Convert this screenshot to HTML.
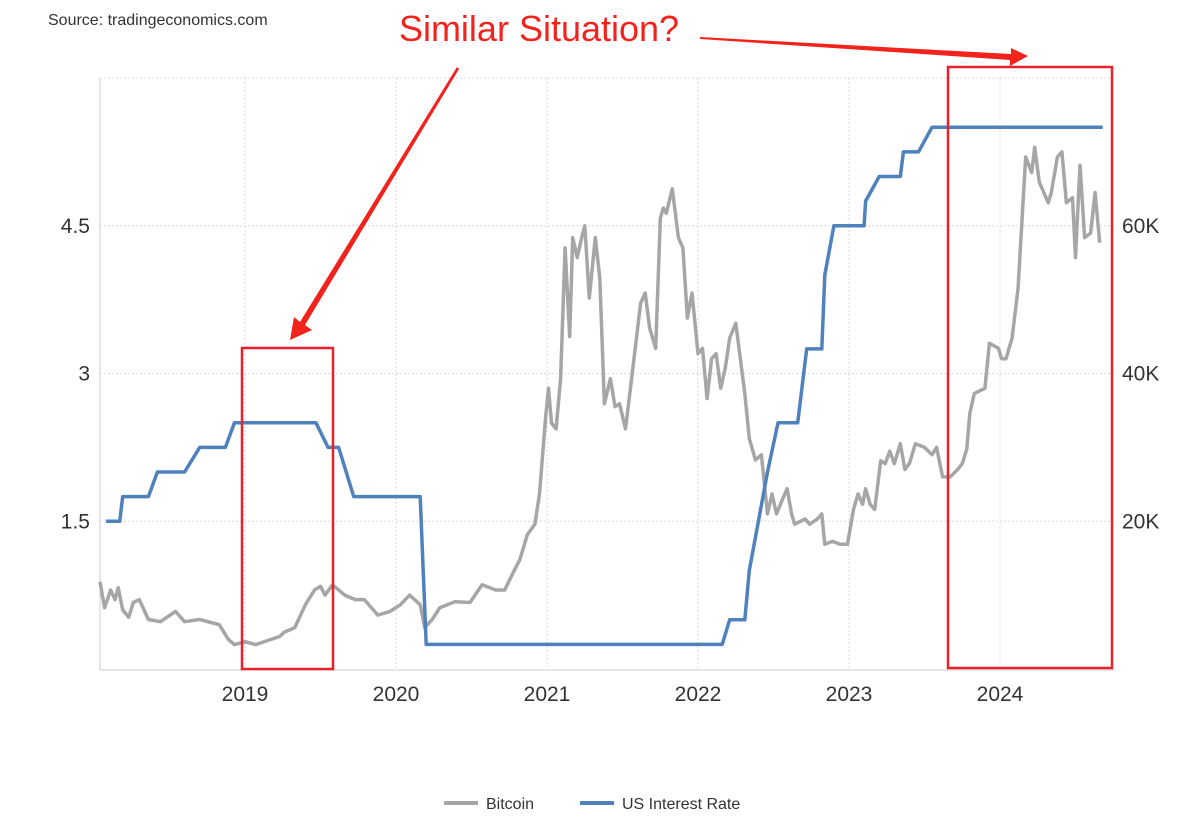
<!DOCTYPE html>
<html><head><meta charset="utf-8"><style>
body{margin:0;background:#fff;}
svg{display:block;font-family:"Liberation Sans",Arial,sans-serif;}
</style></head><body>
<svg id="chart" width="1200" height="820" viewBox="0 0 1200 820">
<text x="48" y="25" font-size="16" fill="#333">Source: tradingeconomics.com</text>
<g id="grid"></g>
<g id="axes"></g>
<g id="series"></g>
<g id="annot">
<text x="539" y="41" font-size="36" fill="#f2231c" text-anchor="middle">Similar Situation?</text>
<rect x="242" y="348" width="91" height="321" fill="none" stroke="#e8212a" stroke-width="2.5"/>
<rect x="948" y="67" width="164" height="601" fill="none" stroke="#e8212a" stroke-width="2.5"/>
<polygon points="457,67 459,69 305,325 312,330 290,340 294,317 300,322" fill="#f2231c"/>
<polygon points="700,37 700,39 1010,60 1010,66 1028,56 1011,48 1011,54" fill="#f2231c"/>
</g>
<g>
<line x1="444" y1="803" x2="478" y2="803" stroke="#a6a6a6" stroke-width="4"/>
<text x="486" y="809" font-size="16" fill="#333">Bitcoin</text>
<line x1="580" y1="803" x2="614" y2="803" stroke="#4f81bd" stroke-width="4"/>
<text x="622" y="809" font-size="16" fill="#333">US Interest Rate</text>
</g>
</svg>
<script>
const yearTicks=[2019,2020,2021,2022,2023,2024];
const leftTicks=[1.5,3,4.5];
const leftTickLabels=["1.5","3","4.5"];
const rightTicks=[20,40,60];
const rightTickLabels=["20K","40K","60K"];
const rateDates=[2018.08,2018.17,2018.19,2018.36,2018.42,2018.6,2018.7,2018.87,2018.93,2019.47,2019.55,2019.62,2019.67,2019.72,2019.8,2020.16,2020.2,2022.16,2022.21,2022.31,2022.34,2022.4,2022.46,2022.53,2022.66,2022.72,2022.82,2022.84,2022.9,2022.93,2023.1,2023.11,2023.2,2023.34,2023.36,2023.46,2023.55,2024.68];
const rateValues=[1.5,1.5,1.75,1.75,2.0,2.0,2.25,2.25,2.5,2.5,2.25,2.25,2.0,1.75,1.75,1.75,0.25,0.25,0.5,0.5,1.0,1.5,2.0,2.5,2.5,3.25,3.25,4.0,4.5,4.5,4.5,4.75,5.0,5.0,5.25,5.25,5.5,5.5];
const btcDates=[2018.04,2018.07,2018.11,2018.14,2018.16,2018.19,2018.23,2018.26,2018.30,2018.36,2018.44,2018.54,2018.60,2018.70,2018.83,2018.89,2018.93,2019.00,2019.07,2019.17,2019.23,2019.26,2019.33,2019.40,2019.46,2019.50,2019.53,2019.58,2019.66,2019.73,2019.79,2019.88,2019.96,2020.03,2020.09,2020.16,2020.19,2020.24,2020.29,2020.39,2020.49,2020.57,2020.66,2020.72,2020.77,2020.82,2020.87,2020.92,2020.95,2020.99,2021.01,2021.03,2021.06,2021.09,2021.12,2021.15,2021.17,2021.20,2021.23,2021.25,2021.28,2021.32,2021.35,2021.38,2021.42,2021.45,2021.48,2021.52,2021.56,2021.62,2021.65,2021.68,2021.72,2021.75,2021.77,2021.79,2021.83,2021.87,2021.90,2021.93,2021.96,2022.00,2022.03,2022.06,2022.09,2022.12,2022.15,2022.18,2022.21,2022.25,2022.28,2022.31,2022.34,2022.38,2022.42,2022.46,2022.49,2022.52,2022.56,2022.59,2022.62,2022.64,2022.71,2022.74,2022.79,2022.82,2022.84,2022.89,2022.94,2022.99,2023.03,2023.06,2023.09,2023.11,2023.14,2023.17,2023.21,2023.24,2023.27,2023.30,2023.34,2023.37,2023.40,2023.44,2023.50,2023.55,2023.58,2023.62,2023.67,2023.72,2023.75,2023.78,2023.80,2023.83,2023.90,2023.93,2023.99,2024.01,2024.04,2024.08,2024.12,2024.15,2024.17,2024.21,2024.23,2024.26,2024.32,2024.34,2024.38,2024.41,2024.44,2024.48,2024.50,2024.53,2024.56,2024.60,2024.63,2024.66];
const btcValues=[11.8,8.3,10.7,9.4,11,8,7,9,9.4,6.7,6.4,7.8,6.4,6.7,6,4,3.3,3.7,3.3,4,4.4,5,5.6,8.7,10.7,11.2,10,11.4,10,9.4,9.4,7.3,7.8,8.7,10,8.7,5.6,6.7,8.3,9.1,9,11.4,10.7,10.7,12.8,14.8,18.2,19.6,23.7,33.9,38,33.3,32.5,39.3,57,45,58.4,55.7,58.4,60,50.2,58.4,52.9,35.9,39.3,35.5,35.9,32.5,39.3,49.5,50.9,46.1,43.4,61,62.4,61.7,65,58.4,57,47.5,50.9,42.7,43.4,36.6,42,42.7,38,40.7,44.8,46.8,42,37.3,31.2,28.3,29,21,23.7,21,23,24.4,21,19.6,20.3,19.6,20.3,21,16.9,17.3,16.9,16.9,21.6,23.7,22.3,24.4,22.3,21.6,28.2,27.8,29.5,27.8,30.5,27,27.8,30.5,30,29,30,26,26,27,27.8,29.8,34.6,37.3,38,44.1,43.4,42,42,44.8,51.6,62.4,69.3,67.2,70.6,65.9,63.1,64.5,69.3,70,63.1,63.8,55.7,68.2,58.4,59,64.5,57.7];

const NS="http://www.w3.org/2000/svg";
const X=d=>245+(d-2019)*151;
const YL=v=>669-v*(669-78)/6;
const YR=v=>669-v*(669-78)/80;
function mk(tag,attrs,parent){const e=document.createElementNS(NS,tag);for(const k in attrs)e.setAttribute(k,attrs[k]);parent.appendChild(e);return e;}
const grid=document.getElementById('grid'),axes=document.getElementById('axes'),series=document.getElementById('series');
[6,4.5,3,1.5].forEach(v=>{const l=mk('line',{x1:100,x2:1115,y1:YL(v),y2:YL(v),stroke:'#d9d9d9','stroke-dasharray':'2,2'},grid);

});
yearTicks.forEach(y=>{const l=mk('line',{x1:X(y),x2:X(y),y1:78,y2:670,stroke:'#d9d9d9','stroke-dasharray':'2,2'},grid);


const t=mk('text',{x:X(y),y:701,'font-size':21,fill:'#333','text-anchor':'middle'},axes);t.textContent=y;

});
const a1=mk('line',{x1:100,x2:100,y1:78,y2:670,stroke:'#ccc'},axes);


const a2=mk('line',{x1:100,x2:1115,y1:670,y2:670,stroke:'#ccc'},axes);


leftTicks.forEach((v,i)=>{const t=mk('text',{x:90,y:YL(v)+7,'font-size':21,fill:'#333','text-anchor':'end'},axes);t.textContent=leftTickLabels[i];

});
rightTicks.forEach((v,i)=>{const t=mk('text',{x:1122,y:YR(v)+7,'font-size':21,fill:'#333'},axes);t.textContent=rightTickLabels[i];

});
const bp=mk('polyline',{points:btcDates.map((d,i)=>X(d).toFixed(1)+','+YR(btcValues[i]).toFixed(1)).join(' '),fill:'none',stroke:'#a6a6a6','stroke-width':3.5,'stroke-linejoin':'round'},series);


const rp=mk('polyline',{points:rateDates.map((d,i)=>X(d).toFixed(1)+','+YL(rateValues[i]).toFixed(1)).join(' '),fill:'none',stroke:'#4f81bd','stroke-width':3.5,'stroke-linejoin':'round'},series);


</script>
</body></html>
